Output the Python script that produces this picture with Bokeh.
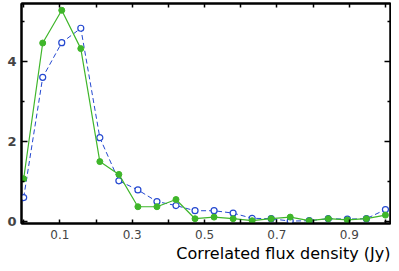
import numpy as np
from bokeh.plotting import figure
from bokeh.models import FixedTicker, LinearAxis, Range1d, Title
from bokeh.embed import file_html
from bokeh.resources import INLINE

flux = np.linspace(0.0, 1.0, 20)
green_vals = [1.07, 4.47, 5.29, 4.33, 1.50, 1.18, 0.37, 0.37, 0.55, 0.07,
              0.11, 0.07, 0.02, 0.07, 0.11, 0.02, 0.07, 0.04, 0.07, 0.16]
blue_vals = [0.60, 3.61, 4.48, 4.84, 2.10, 1.02, 0.79, 0.50, 0.40, 0.27,
             0.27, 0.21, 0.08, 0.07, 0.01, 0.02, 0.07, 0.06, 0.07, 0.30]
x_label_ticks = [0.1, 0.3, 0.5, 0.7, 0.9]
x_minor_ticks = [0.0, 0.2, 0.4, 0.6, 0.8, 1.0]
x_all_ticks = [0.0, 0.1, 0.2, 0.3, 0.4, 0.5, 0.6, 0.7, 0.8, 0.9, 1.0]
y_label_ticks = [0, 2, 4]
y_minor_ticks = [1, 3, 5]
x_title = "Correlated flux density (Jy)"

GREEN = "#3fb62a"
BLUE = "#2448d0"
FONT = "DejaVu Sans"

p = figure(width=391, height=263, output_backend="svg", toolbar_location=None,
           x_range=Range1d(-0.006, 1.014), y_range=Range1d(-0.05, 5.46),
           min_border_left=21, min_border_right=1, min_border_top=3, min_border_bottom=0)
p.xgrid.visible = False
p.ygrid.visible = False
p.outline_line_color = "black"
p.outline_line_width = 2
p.background_fill_color = "white"
p.border_fill_color = "white"

p.line(flux, blue_vals, line_color=BLUE, line_width=1, line_dash="5 3")
p.scatter(flux, blue_vals, size=6, marker="circle", fill_color="white",
          line_color=BLUE, line_width=1.2)
p.line(flux, green_vals, line_color=GREEN, line_width=1.2)
p.scatter(flux, green_vals, size=6, marker="circle", fill_color=GREEN,
          line_color=GREEN)

def base(ax):
    ax.major_tick_out = 0
    ax.minor_tick_out = 0
    ax.major_tick_line_width = 1.5
    ax.minor_tick_line_width = 1.5
    ax.axis_line_width = 2

xb = p.xaxis[0]
base(xb)
xb.ticker = FixedTicker(ticks=x_label_ticks, minor_ticks=x_minor_ticks)
xb.major_tick_in = 4
xb.minor_tick_in = 4
xb.major_label_text_font = FONT
xb.major_label_text_font_size = "12px"
xb.major_label_standoff = 6

p.add_layout(Title(text=x_title, align="right", text_font=FONT,
                   text_font_size="16px", text_font_style="normal",
                   text_color="black", standoff=1, offset=0), "below")

yl = p.yaxis[0]
base(yl)
yl.ticker = FixedTicker(ticks=y_label_ticks, minor_ticks=y_minor_ticks)
yl.major_tick_in = 6
yl.minor_tick_in = 3
yl.major_label_text_font = FONT
yl.major_label_text_font_size = "13px"
yl.major_label_text_font_style = "bold"
yl.major_label_standoff = 5

top = LinearAxis(ticker=FixedTicker(ticks=[], minor_ticks=x_all_ticks))
base(top)
top.minor_tick_in = 4
p.add_layout(top, "above")

right1 = LinearAxis(ticker=FixedTicker(ticks=[], minor_ticks=y_label_ticks))
base(right1)
right1.minor_tick_in = 6
p.add_layout(right1, "right")
right2 = LinearAxis(ticker=FixedTicker(ticks=[], minor_ticks=y_minor_ticks))
base(right2)
right2.minor_tick_in = 3
right2.axis_line_alpha = 0
p.add_layout(right2, "right")

open("out.html", "w").write(file_html(p, INLINE))
